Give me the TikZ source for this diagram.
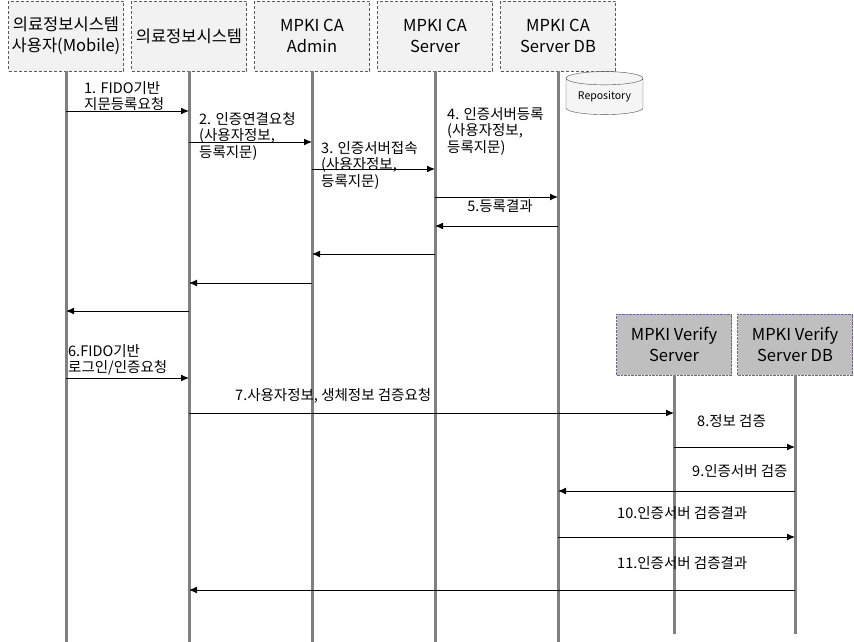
\documentclass[tikz,border=0pt]{standalone}
\usepackage{fontspec}
\setmainfont{Noto Sans CJK KR}
\usetikzlibrary{positioning,shapes.geometric,arrows.meta}

\definecolor{boxline}{RGB}{90,90,90}
\definecolor{vline}{RGB}{110,100,150}

\tikzset{
	actor/.style={draw=boxline,densely dashed,fill=black!5,minimum width=115pt,minimum height=70pt,inner sep=0pt,align=center,font=\fontsize{16.5}{21}\selectfont},
	vactor/.style={actor,draw=vline,densely dotted,fill=black!25,minimum height=61pt},
	life/.style={draw=black!50,line width=3pt},
	msg/.style={line width=1pt,-{Latex[length=8pt,width=7pt]}},
	lbl/.style={inner sep=0pt,align=left,anchor=north west,font=\fontsize{14.5}{16.5}\selectfont}
}

\begin{document}
\begin{tikzpicture}[x=1pt,y=-1pt]
\useasboundingbox (0,0) rectangle (854,642);

\foreach \n/\x/\t in {h1/66/{의료정보시스템\\사용자(Mobile)},h2/189/{의료정보시스템},h3/312/{MPKI CA\\Admin},h4/435/{MPKI CA\\Server},h5/558/{MPKI CA\\Server DB}}
	\node[actor] (\n) at (\x,36) {\t};
\foreach \n/\x/\t in {h6/674/{MPKI Verify\\Server},h7/795/{MPKI Verify\\Server DB}}
	\node[vactor] (\n) at (\x,344.5) {\t};

\node[cylinder,shape border rotate=90,aspect=0.25,draw=black!70,fill=black!4,minimum width=77pt,minimum height=43pt,inner sep=0pt,font=\fontsize{10.5}{12}\selectfont] (repo) at (604.5,96.5) {Repository};

\foreach \n in {h1,h2,h3,h4,h5}
	\draw[life](\n.south)--(\n.south|-0,642);
\foreach \n in {h6,h7}
	\draw[life](\n.south)--(\n.south|-0,634);

\foreach \a/\b/\y in {h1/h2/111,h2/h3/142,h3/h4/169,h4/h5/197,h5/h4/226,h4/h3/254,h3/h2/283,h2/h1/311,h1/h2/378,h2/h6/413,h6/h7/447,h7/h5/491,h5/h7/537,h7/h2/590}
	\draw[msg](\a|-0,\y)--(\b|-0,\y);

\node[lbl] (l1) at (84,81) {1. FIDO기반\\지문등록요청};
\node[lbl] (l2) at (199,112) {2. 인증연결요청\\(사용자정보,\\등록지문)};
\node[lbl] (l3) at (321,141) {3. 인증서버접속\\(사용자정보,\\등록지문)};
\node[lbl] (l4) at (447,107) {4. 인증서버등록\\(사용자정보,\\등록지문)};
\node[lbl,anchor=north] (l5) at (500,199) {5.등록결과};
\node[lbl] (l6) at (68,344) {6.FIDO기반\\로그인/인증요청};
\node[lbl] (l7) at (235,388) {7.사용자정보, 생체정보 검증요청};
\node[lbl] (l8) at (697,414) {8.정보 검증};
\node[lbl] (l9) at (692,464) {9.인증서버 검증};
\node[lbl] (l10) at (617,506) {10.인증서버 검증결과};
\node[lbl] (l11) at (617,556) {11.인증서버 검증결과};

\end{tikzpicture}
\end{document}
